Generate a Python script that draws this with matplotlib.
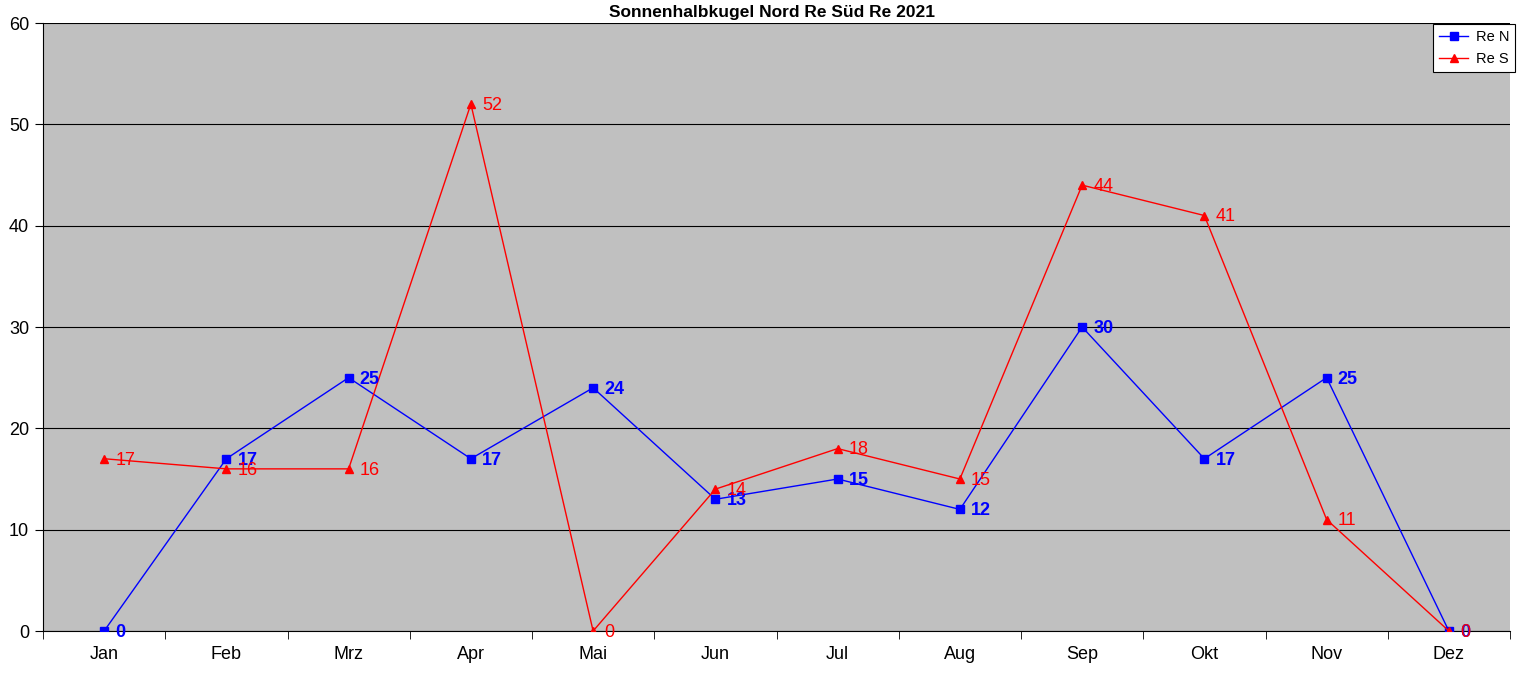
import numpy as np
import matplotlib
matplotlib.use('Agg')
import matplotlib.pyplot as plt
from matplotlib.ticker import FixedLocator

plt.rcParams['font.family'] = ['Liberation Sans', 'DejaVu Sans']

months = ['Jan', 'Feb', 'Mrz', 'Apr', 'Mai', 'Jun', 'Jul', 'Aug', 'Sep', 'Okt', 'Nov', 'Dez']
re_n = [0, 17, 25, 17, 24, 13, 15, 12, 30, 17, 25, 0]
re_s = [17, 16, 16, 52, 0, 14, 18, 15, 44, 41, 11, 0]

fig = plt.figure(figsize=(15.17, 6.78), dpi=100)
ax = fig.add_axes([43 / 1517, 1 - 631 / 678, (1510 - 43) / 1517, (631 - 23) / 678])
ax.set_facecolor('#C0C0C0')

x = np.arange(len(months))
ax.plot(x, re_n, color='#0000FF', lw=1, marker='s', ms=5.5, label='Re N', zorder=3)
ax.plot(x, re_s, color='#FF0000', lw=1, marker='^', ms=5.5, label='Re S', zorder=3)

for xi, v in zip(x, re_n):
    ax.annotate(str(v), (xi, v), xytext=(8, -1), textcoords='offset points',
                va='center', ha='left', color='#0000FF', fontsize=13, fontweight='bold', zorder=4)
for xi, v in zip(x, re_s):
    ax.annotate(str(v), (xi, v), xytext=(8, -1), textcoords='offset points',
                va='center', ha='left', color='#FF0000', fontsize=13, zorder=4)

ax.set_xlim(-0.5, len(months) - 0.5)
ax.set_ylim(0, 60)
ax.set_yticks(range(0, 61, 10))
ax.yaxis.grid(True, color='black', lw=0.8)
ax.set_axisbelow(True)
ax.set_xticks(x)
ax.set_xticklabels(months)
ax.xaxis.set_minor_locator(FixedLocator(np.arange(-0.5, len(months), 1)))
ax.tick_params(axis='x', which='major', length=0, labelsize=13, pad=11)
ax.tick_params(axis='x', which='minor', length=6, direction='out')
ax.tick_params(axis='y', length=6, labelsize=13, pad=4)
for s in ['top', 'right']:
    ax.spines[s].set_visible(False)

fig.text(0.5 * (43 + 1510) / 1517 - 0.003, 1 - 12 / 678, 'Sonnenhalbkugel Nord Re Süd Re 2021',
         ha='center', va='center', fontsize=12.5, fontweight='bold')

leg = fig.legend(loc='upper right', bbox_to_anchor=(1515 / 1517, 1 - 24 / 678), fontsize=10.5,
                 frameon=True, fancybox=False, edgecolor='black', framealpha=1,
                 handlelength=2.0, handletextpad=0.5, borderpad=0.4, labelspacing=0.55,
                 borderaxespad=0)
leg.get_frame().set_linewidth(0.8)

fig.savefig('out.png', dpi=100)
